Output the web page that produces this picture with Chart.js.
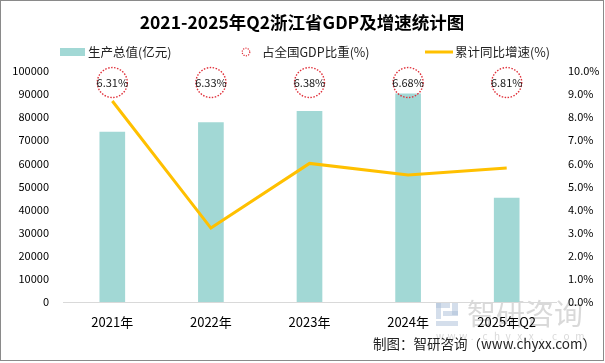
<!DOCTYPE html>
<html>
<head>
<meta charset="utf-8">
<script src="https://cdn.jsdelivr.net/npm/chart.js@4/dist/chart.umd.min.js"></script>
<style>
  html, body { margin: 0; padding: 0; background: #fff; }
  #wrap { width: 605px; height: 363px; }
</style>
</head>
<body>
<div id="wrap"><canvas id="gdpChart" width="605" height="363"></canvas></div>
<script>
// Data
const categories = ['2021年', '2022年', '2023年', '2024年', '2025年Q2'];
const gdpValues = [73516, 77715, 82553, 90131, 45004];   // 生产总值(亿元)
const growthRates = [8.7, 3.2, 6.0, 5.5, 5.8];           // 累计同比增速(%)
const nationalShares = [6.31, 6.33, 6.38, 6.68, 6.81];   // 占全国GDP比重(%)
const shareMarkerLevel = 9.5; // the share bubbles all sit at one height on the right axis

const FONT = '"Noto Sans CJK SC", "Noto Sans", sans-serif';
const BAR_COLOR = '#a2d8d5';
const LINE_COLOR = '#ffc000';
const RING_COLOR = '#e0303a';

// Title, legend, bubbles, watermark and footer are painted by hand
const decorPlugin = {
  id: 'decor',
  beforeDraw(chart) {
    const ctx = chart.ctx;
    ctx.save();
    ctx.fillStyle = '#fff';
    ctx.fillRect(0, 0, chart.width, chart.height);

    // watermark logo
    ctx.fillStyle = 'rgba(170,190,215,0.5)';
    ctx.fillRect(436, 303, 14, 5);
    ctx.fillRect(436, 303, 5, 16);
    ctx.fillRect(452, 303, 6, 12);
    ctx.fillRect(443, 311, 15, 5);
    ctx.fillRect(436, 321, 22, 5);
    ctx.fillStyle = 'rgba(170,170,170,0.45)';
    ctx.font = '29px ' + FONT;
    ctx.textBaseline = 'middle';
    ctx.textAlign = 'left';
    ctx.fillText('智研咨询', 467, 314);
    ctx.font = '10px ' + FONT;
    const wm = 'www.chyxx.com';
    for (let i = 0; i < wm.length; i++) {
      ctx.fillText(wm[i], 436 + i * 11.6, 336);
    }
    ctx.restore();
  },
  afterDatasetsDraw(chart) {
    const ctx = chart.ctx;
    const meta = chart.getDatasetMeta(2); // share dataset
    ctx.save();
    meta.data.forEach((pt, i) => {
      ctx.beginPath();
      ctx.setLineDash([1.5, 1.5]);
      ctx.lineWidth = 1.4;
      ctx.strokeStyle = RING_COLOR;
      ctx.arc(pt.x, pt.y, 15, 0, Math.PI * 2);
      ctx.stroke();
      ctx.setLineDash([]);
      ctx.fillStyle = '#1a1a1a';
      ctx.font = '11px ' + FONT;
      ctx.textAlign = 'center';
      ctx.textBaseline = 'middle';
      ctx.fillText(nationalShares[i].toFixed(2) + '%', pt.x, pt.y);
    });
    ctx.restore();
  },
  afterDraw(chart) {
    const ctx = chart.ctx;
    ctx.save();
    // frame
    ctx.strokeStyle = '#8a8a8a';
    ctx.lineWidth = 1;
    ctx.strokeRect(0.5, 0.5, 603, 360);

    // title
    ctx.fillStyle = '#000';
    ctx.font = 'bold 17.5px ' + FONT;
    ctx.textAlign = 'center';
    ctx.textBaseline = 'middle';
    ctx.fillText('2021-2025年Q2浙江省GDP及增速统计图', 302, 22);

    // legend
    const ly = 52;
    ctx.font = '12.5px ' + FONT;
    ctx.textAlign = 'left';
    ctx.fillStyle = BAR_COLOR;
    ctx.fillRect(60, 48, 25, 8);
    ctx.fillStyle = '#222';
    ctx.fillText('生产总值(亿元)', 88, ly);

    ctx.beginPath();
    ctx.setLineDash([1.2, 1.2]);
    ctx.strokeStyle = RING_COLOR;
    ctx.lineWidth = 1.2;
    ctx.arc(246, ly, 3.8, 0, Math.PI * 2);
    ctx.stroke();
    ctx.setLineDash([]);
    ctx.fillText('占全国GDP比重(%)', 262, ly);

    ctx.beginPath();
    ctx.strokeStyle = LINE_COLOR;
    ctx.lineWidth = 3;
    ctx.moveTo(425, ly);
    ctx.lineTo(453, ly);
    ctx.stroke();
    ctx.fillText('累计同比增速(%)', 455, ly);

    // footer
    ctx.font = '13.5px ' + FONT;
    ctx.textAlign = 'right';
    ctx.fillStyle = '#222';
    ctx.fillText('制图：智研咨询（www.chyxx.com）', 596, 344);
    ctx.restore();
  }
};

new Chart(document.getElementById('gdpChart'), {
  data: {
    labels: categories,
    datasets: [
      {
        type: 'bar',
        label: '生产总值(亿元)',
        data: gdpValues,
        yAxisID: 'y',
        backgroundColor: BAR_COLOR,
        barThickness: 25,
        order: 3,
      },
      {
        type: 'line',
        label: '累计同比增速(%)',
        data: growthRates,
        yAxisID: 'y1',
        borderColor: LINE_COLOR,
        borderWidth: 3,
        pointRadius: 0,
        tension: 0,
        fill: false,
        order: 2,
      },
      {
        type: 'line',
        label: '占全国GDP比重(%)',
        data: nationalShares.map(() => shareMarkerLevel),
        yAxisID: 'y1',
        showLine: false,
        pointRadius: 0,
        order: 1,
      },
    ],
  },
  options: {
    responsive: false,
    animation: false,
    layout: { padding: { top: 71, left: 0, right: 0, bottom: 0 } },
    plugins: {
      legend: { display: false },
      title: { display: false },
      tooltip: { enabled: false },
    },
    scales: {
      x: {
        grid: { display: false, drawTicks: false },
        border: { display: true, color: '#d9d9d9', width: 1 },
        ticks: { font: { family: FONT, size: 13 }, color: '#000', padding: 12, maxRotation: 0 },
        afterFit(scale) { scale.height = 61; },
      },
      y: {
        position: 'left',
        min: 0,
        max: 100000,
        grid: { display: false, drawTicks: false },
        border: { display: false },
        ticks: {
          stepSize: 10000,
          font: { family: FONT, size: 11 },
          color: '#000',
          padding: 14,
          callback: (v) => String(v),
        },
        afterFit(scale) { scale.width = 63; },
      },
      y1: {
        position: 'right',
        min: 0,
        max: 10,
        grid: { display: false, drawTicks: false },
        border: { display: false },
        ticks: {
          stepSize: 1,
          font: { family: FONT, size: 11 },
          color: '#000',
          padding: 12,
          callback: (v) => v.toFixed(1) + '%',
        },
        afterFit(scale) { scale.width = 49; },
      },
    },
  },
  plugins: [decorPlugin],
});
</script>
</body>
</html>
